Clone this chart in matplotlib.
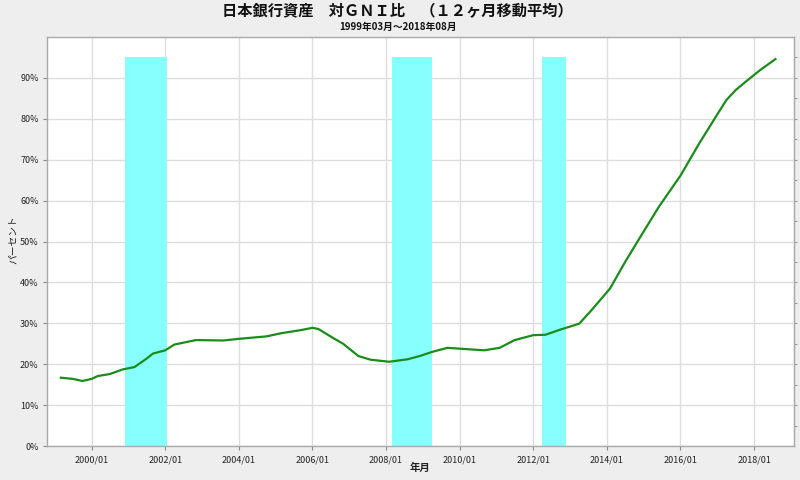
import matplotlib
matplotlib.use("Agg")
import matplotlib.pyplot as plt
from matplotlib.ticker import FuncFormatter
import pandas as pd

plt.rcParams['font.family'] = ['Noto Sans CJK JP', 'DejaVu Sans']

# data (month, percent of GNI, 12-month moving average)
months = ['1999-03', '1999-07', '1999-10', '2000-01', '2000-03', '2000-07', '2000-11',
          '2001-03', '2001-07', '2001-09', '2002-01', '2002-04', '2002-11', '2003-08',
          '2004-01', '2004-10', '2005-03', '2005-09', '2006-01', '2006-03', '2006-08',
          '2006-11', '2007-04', '2007-08', '2008-02', '2008-08', '2008-12', '2009-04',
          '2009-09', '2010-03', '2010-09', '2011-02', '2011-07', '2012-01', '2012-05',
          '2012-10', '2013-04', '2013-08', '2014-02', '2014-07', '2014-12', '2015-06',
          '2016-01', '2016-07', '2017-01', '2017-04', '2017-07', '2017-10', '2018-03',
          '2018-08']
values = [16.7, 16.4, 15.9, 16.4, 17.1, 17.6, 18.7,
          19.3, 21.4, 22.6, 23.4, 24.8, 25.9, 25.8,
          26.2, 26.8, 27.6, 28.3, 28.9, 28.6, 26.3,
          25.0, 22.0, 21.1, 20.6, 21.2, 22.0, 23.0,
          24.0, 23.7, 23.4, 24.0, 25.9, 27.1, 27.2,
          28.5, 29.9, 33.2, 38.5, 45.0, 51.2, 58.5,
          66.1, 73.8, 81.1, 84.6, 87.0, 88.9, 91.9,
          94.6]

# shaded periods
span_starts = ['2000-12-01', '2008-03-01', '2012-04-01']
span_ends = ['2002-01-15', '2009-03-31', '2012-11-25']
span_top = 95

xticks = ['2000-01', '2002-01', '2004-01', '2006-01', '2008-01', '2010-01',
          '2012-01', '2014-01', '2016-01', '2018-01']
xticklabels = ['2000/01', '2002/01', '2004/01', '2006/01', '2008/01', '2010/01',
               '2012/01', '2014/01', '2016/01', '2018/01']

title = '日本銀行資産　対ＧＮＩ比　（１２ヶ月移動平均）'
subtitle = '1999年03月～2018年08月'
xlabel = '年月'
ylabel = 'パーセント'

fig = plt.figure(figsize=(8, 4.8), dpi=100, facecolor='#eeeeee')
ax = fig.add_axes([47/800, 1-446/480, (794-47)/800, (446-37)/480])
ax.set_facecolor('white')

dates = pd.to_datetime(months)
for s, e in zip(span_starts, span_ends):
    ax.fill_between([pd.Timestamp(s), pd.Timestamp(e)], 0, span_top,
                    color='#88ffff', lw=0, zorder=1)

ax.plot(dates, values, color='#1a8c1a', lw=1.6, zorder=3, solid_joinstyle='round')

ax.set_xlim(pd.Timestamp('1998-10-15'), pd.Timestamp('2019-02-01'))
ax.set_ylim(0, 100)
ax.set_xticks(pd.to_datetime(xticks))
ax.set_xticklabels(xticklabels)
ax.set_yticks(range(0, 100, 10))
ax.yaxis.set_major_formatter(FuncFormatter(lambda v, p: f'{int(v)}%'))

ax.grid(True, color='#dddddd', lw=1.0, zorder=0)
ax.set_axisbelow(True)
for sp in ax.spines.values():
    sp.set_color('#aaaaaa')
    sp.set_linewidth(1.0)
ax.tick_params(axis='both', labelsize=6.5, color='#888888', length=3, labelcolor='#222222')
ax.tick_params(axis='y', pad=3)

sec = ax.secondary_yaxis('right')
sec.set_yticks(range(5, 100, 5))
sec.set_yticklabels([])
sec.tick_params(length=2, color='#999999')
sec.spines['right'].set_color('#aaaaaa')

fig.text(420/800, 1-468/480, xlabel, ha='center', va='center', fontsize=7.5,
         fontweight='bold', color='#222222')
fig.text(13/800, 1-240/480, ylabel, ha='center', va='center', fontsize=7,
         rotation=90, color='#222222')

fig.text(0.497, 1-11/480, title, ha='center', va='center', fontsize=11, fontweight='bold', color='#111111')
fig.text(0.497, 1-27/480, subtitle, ha='center', va='center', fontsize=7, fontweight='bold', color='#111111')

fig.savefig('out.png', dpi=100, facecolor=fig.get_facecolor())
